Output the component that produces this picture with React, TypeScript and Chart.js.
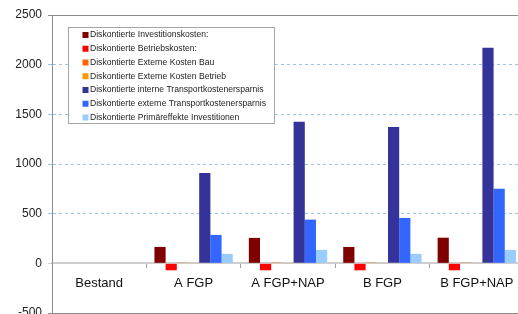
import React, { useEffect, useRef } from "react";
import { Chart, registerables } from "chart.js";

Chart.register(...registerables);

const categories = ["Bestand", "A FGP", "A FGP+NAP", "B FGP", "B FGP+NAP"];

const seriesNames = [
  "Diskontierte Investitionskosten:",
  "Diskontierte Betriebskosten:",
  "Diskontierte Externe Kosten Bau",
  "Diskontierte Externe Kosten Betrieb",
  "Diskontierte interne Transportkostenersparnis",
  "Diskontierte externe Transportkostenersparnis",
  "Diskontierte Primäreffekte Investitionen",
];

const investitionskosten = [0, 165, 256, 165, 258];
const betriebskosten = [0, -70, -70, -70, -70];
const externeKostenBau = [0, 8, 8, 8, 8];
const externeKostenBetrieb = [0, -6, -6, -6, -6];
const interneErsparnis = [0, 909, 1425, 1372, 2170];
const externeErsparnis = [0, 286, 440, 457, 751];
const primaereffekte = [0, 95, 135, 95, 135];

const seriesValues = [
  investitionskosten,
  betriebskosten,
  externeKostenBau,
  externeKostenBetrieb,
  interneErsparnis,
  externeErsparnis,
  primaereffekte,
];

const seriesColors = ["#800000", "#ff0000", "#ff6600", "#ff9900", "#333399", "#3366ff", "#99ccff"];

const yMin = -500;
const yMax = 2500;
const yStep = 500;

const FONT = '"Liberation Sans", Arial, sans-serif';

const insideLegend = {
  id: "insideLegend",
  afterDraw(chart: any) {
    const ctx = chart.ctx;
    const area = chart.chartArea;
    const x = Math.round(area.left + 16) + 0.5;
    const y = Math.round(area.top + 12) + 0.5;
    const w = 206;
    const h = 96;
    ctx.save();
    ctx.fillStyle = "#ffffff";
    ctx.fillRect(x, y, w, h);
    ctx.strokeStyle = "#a6a6a6";
    ctx.lineWidth = 1;
    ctx.strokeRect(x, y, w, h);
    ctx.font = `8.6px ${FONT}`;
    ctx.textBaseline = "middle";
    chart.data.datasets.forEach((ds: any, i: number) => {
      const cy = y + 7.5 + i * 13.75;
      ctx.fillStyle = ds.backgroundColor;
      ctx.fillRect(x + 14, cy - 3, 6, 6);
      ctx.fillStyle = "#222222";
      ctx.fillText(ds.label, x + 21.5, cy);
    });
    ctx.restore();
  },
};

export default function App() {
  const canvasRef = useRef<HTMLCanvasElement | null>(null);

  useEffect(() => {
    const canvas = canvasRef.current;
    if (!canvas) return;
    const chart = new Chart(canvas, {
      type: "bar",
      data: {
        labels: categories,
        datasets: seriesNames.map((name, i) => ({
          label: name,
          data: seriesValues[i],
          backgroundColor: seriesColors[i],
          borderWidth: 0,
          categoryPercentage: 0.83,
          barPercentage: 1.0,
        })),
      },
      options: {
        animation: false,
        responsive: false,
        devicePixelRatio: 1,
        layout: { padding: { top: 15, right: 6, bottom: 17, left: 0 } },
        plugins: {
          legend: { display: false },
          tooltip: { enabled: false },
        },
        scales: {
          x: {
            position: { y: 0 } as any,
            offset: true,
            grid: {
              display: true,
              drawOnChartArea: false,
              drawTicks: true,
              tickLength: 4,
              offset: true,
              color: "#a0a0a0",
              tickColor: "#a0a0a0",
            },
            border: { display: true, color: "#cfcfcf", width: 2 },
            ticks: {
              font: { size: 13, family: FONT },
              color: "#111111",
              padding: 8,
              maxRotation: 0,
              autoSkip: false,
            },
          },
          y: {
            min: yMin,
            max: yMax,
            afterFit: (scale: any) => {
              scale.width = 52;
            },
            ticks: {
              stepSize: yStep,
              font: { size: 12, family: FONT },
              color: "#222222",
              padding: 6,
              callback: (v: any) => String(v),
            },
            grid: {
              tickLength: 4,
              color: (c: any) => {
                const v = c.tick ? c.tick.value : null;
                if (v === 0) return "rgba(0,0,0,0)";
                if (v === yMax || v === yMin) return "#8c8c8c";
                return "#9dc3e6";
              },
              tickColor: (c: any) => {
                const v = c.tick ? c.tick.value : null;
                if (v === 0) return "#cfcfcf";
                if (v === yMax || v === yMin) return "#8c8c8c";
                return "#9dc3e6";
              },
              lineWidth: 1,
            },
            border: {
              display: true,
              color: "#8c8c8c",
              width: 1,
              dash: (c: any) => {
                const v = c.tick ? c.tick.value : null;
                if (v !== null && v !== undefined && v > yMin && v < yMax && v !== 0) return [3, 3];
                return [];
              },
            } as any,
          },
        },
      },
      plugins: [insideLegend],
    });
    return () => chart.destroy();
  }, []);

  return (
    <div
      style={{
        position: "fixed",
        left: 0,
        top: 0,
        width: 518,
        height: 314,
        overflow: "hidden",
        background: "#ffffff",
      }}
    >
      <canvas ref={canvasRef} width={530} height={330} style={{ display: "block" }} />
    </div>
  );
}
